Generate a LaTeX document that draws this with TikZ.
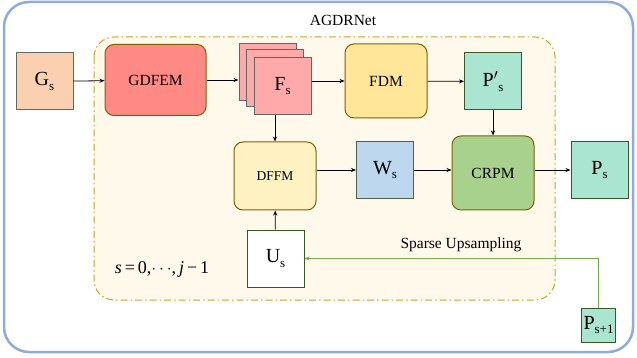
\documentclass[tikz,border=0pt]{standalone}
\usepackage{fontspec}
\setmainfont{Liberation Serif}
\usetikzlibrary{arrows.meta}
\definecolor{outerblue}{HTML}{8FAADC}
\definecolor{gold}{HTML}{C9A227}
\definecolor{cream}{HTML}{FFF9EC}
\definecolor{peach}{HTML}{FBD0B0}
\definecolor{salmon}{HTML}{FF8A85}
\definecolor{pinkish}{HTML}{FFAAAA}
\definecolor{yellowmod}{HTML}{FFE699}
\definecolor{lightyellow}{HTML}{FFF2C2}
\definecolor{teal}{HTML}{A9E5D0}
\definecolor{lightblue}{HTML}{BDD7EE}
\definecolor{lightgreen}{HTML}{A9D18E}
\definecolor{upgreen}{HTML}{70AD47}
\definecolor{modborder}{HTML}{7F6000}
\definecolor{darkgreen}{HTML}{385723}
\newcommand{\lowsub}[2]{#1\raisebox{-0.5ex}{\fontsize{13}{13}\selectfont #2}}

\begin{document}
\begin{tikzpicture}[x=1pt,y=-1pt,
	square/.style={draw=#1, line width=1pt, minimum size=57pt, inner sep=0pt, font=\fontsize{20}{20}\selectfont},
	module/.style={draw=modborder, line width=1pt, rounded corners=9pt, inner sep=0pt, font=\fontsize{15.5}{15.5}\selectfont},
	flow/.style={-{Stealth[length=5pt,width=4pt]}, line width=0.8pt}]
		%%%%% START %%%%%
		
		\useasboundingbox (0,0) rectangle (637,358);
		
		\draw[line width=2.5pt, color=outerblue, rounded corners=25pt] (4,2) rectangle (633,352);
		\node (title) at (343,20) {\fontsize{15.5}{15.5}\selectfont AGDRNet};
		
		\draw[line width=1pt, color=gold, fill=cream, dash pattern=on 7pt off 3pt on 1.5pt off 3pt, rounded corners=20pt] (94,37) rectangle (555,300);
		
		\node[square=gray!80!black, fill=peach] (gs) at (44.5,81.5) {\lowsub{G}{s}};
		\node[module, fill=salmon, minimum width=101pt, minimum height=71pt] (gdfem) at (155.5,80) {GDFEM};
		
		\node[square=gray!80!black, fill=pinkish] (fsb) at (267.5,72) {};
		\node[square=gray!80!black, fill=pinkish] (fsm) at (274.5,78.5) {};
		\node[square=gray!80!black, fill=pinkish] (fs) at (282.5,86) {\lowsub{F}{s}};
		
		\node[module, fill=yellowmod, minimum width=82pt, minimum height=74pt] (fdm) at (386,81) {FDM};
		\node[square=darkgreen, fill=teal] (pps) at (493,81.5) {\lowsub{P$'$}{s}};
		
		\node[module, fill=lightyellow, minimum width=82pt, minimum height=68pt, font=\fontsize{13.5}{13.5}\selectfont] (dffm) at (275,176) {DFFM};
		\node[square=darkgreen!70!gray, fill=lightblue] (ws) at (385,170) {\lowsub{W}{s}};
		\node[module, fill=lightgreen, minimum width=82pt, minimum height=74pt] (crpm) at (493,173) {CRPM};
		\node[square=darkgreen, fill=teal] (ps) at (599.5,170) {\lowsub{P}{s}};
		
		\node[square=darkgreen, fill=white] (us) at (275.5,258.5) {\lowsub{U}{s}};
		\node[square=darkgreen, fill=teal, minimum size=34pt] (psn) at (598.5,325) {\lowsub{P}{s+1}};
		
		\node (range) at (162,269) {\fontsize{18}{18}\selectfont \textit{s}\,=\,0,$\cdots$,\,\textit{j}\,−\,1};
		\node (sparse) at (461,245) {\fontsize{15.5}{15.5}\selectfont Sparse Upsampling};
		
		\draw[flow] (gs) -- (gdfem);
		\draw[flow] (gdfem) -- (gdfem.east -| fsb.west);
		\draw[flow] (fs.east |- fdm.west) -- (fdm);
		\draw[flow] (fdm) -- (pps);
		\draw[flow] (pps) -- (crpm);
		\draw[flow] (fs.south -| dffm.north) -- (dffm);
		\draw[flow] (dffm.east |- ws.west) -- (ws);
		\draw[flow] (ws) -- (crpm.west |- ws.west);
		\draw[flow] (crpm.east |- ps.west) -- (ps);
		\draw[flow] (us) -- (dffm);
		\draw[flow, color=upgreen] (psn) |- (us);
		
		%%%%% END %%%%%
	\end{tikzpicture}
\end{document}
